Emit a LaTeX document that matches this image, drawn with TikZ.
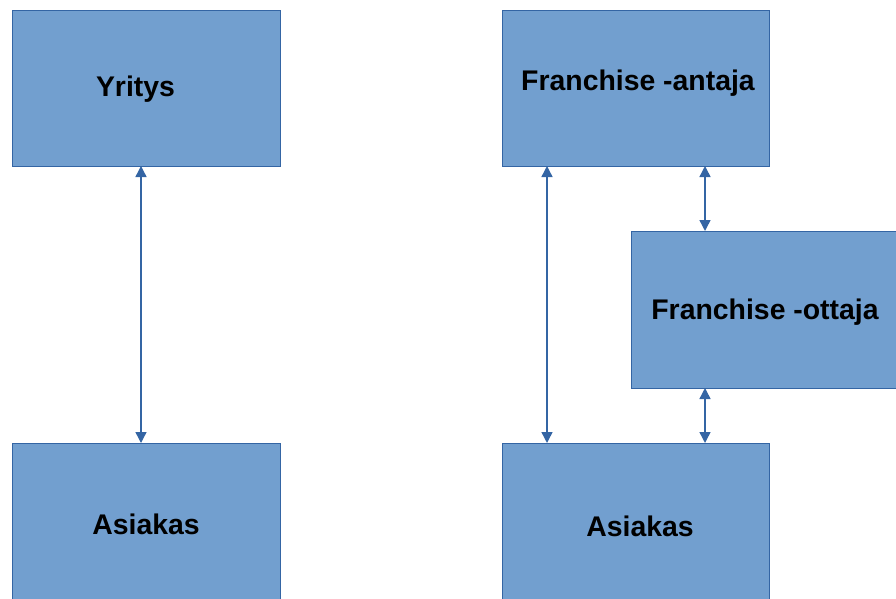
\documentclass[tikz,border=0pt]{standalone}
\usepackage{fontspec}
\setmainfont{Liberation Sans}
\usetikzlibrary{arrows.meta}
\definecolor{boxfill}{HTML}{729FCF}
\definecolor{boxline}{HTML}{3465A4}
\tikzset{
  box/.style={draw=boxline, fill=boxfill, line width=1pt, inner sep=0pt, anchor=north west},
  lbl/.style={inner sep=0pt, font=\fontsize{28.4}{30}\selectfont\bfseries, text=black},
  link/.style={draw=boxline, line width=1.4pt, {Triangle[width=11pt,length=11pt]}-{Triangle[width=11pt,length=11pt]}}
}
\begin{document}
\begin{tikzpicture}[x=1pt,y=-1pt]
\useasboundingbox (0,0) rectangle (896,599);
% boxes
\node[box, minimum width=268pt, minimum height=156pt] (yri) at (12,10) {};
\node[box, minimum width=268pt, minimum height=166pt] (asl) at (12,443) {};
\node[box, minimum width=267pt, minimum height=156pt] (fga) at (502,10) {};
\node[box, minimum width=270pt, minimum height=157pt] (fgo) at (631,231) {};
\node[box, minimum width=267pt, minimum height=166pt] (asr) at (502,443) {};
% labels
\node[lbl] (tyri) at (135.5,89.5) {Yritys};
\node[lbl] (tasl) at (146,524) {Asiakas};
\node[lbl] (tfga) at (638,83.5) {Franchise -antaja};
\node[lbl] (tfgo) at (765,312.5) {Franchise -ottaja};
\node[lbl] (tasr) at (640,526) {Asiakas};
% connectors
\coordinate (c1a) at (141,166); \coordinate (c1b) at (141,443);
\coordinate (c2a) at (547,166); \coordinate (c2b) at (547,443);
\coordinate (c3a) at (705,166); \coordinate (c3b) at (705,231);
\coordinate (c4a) at (705,388); \coordinate (c4b) at (705,443);
\draw[link] (c1a) -- (c1b);
\draw[link] (c2a) -- (c2b);
\draw[link] (c3a) -- (c3b);
\draw[link] (c4a) -- (c4b);
\end{tikzpicture}
\end{document}
